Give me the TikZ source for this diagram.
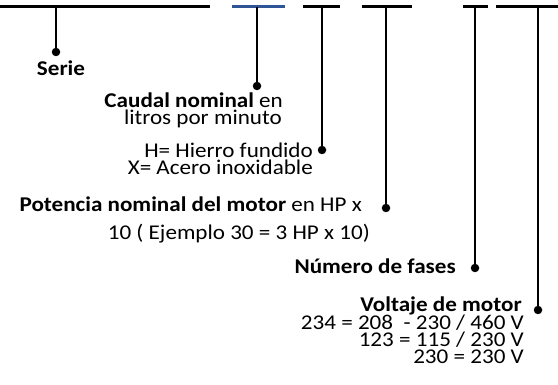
\documentclass[tikz,border=0pt]{standalone}
\usepackage{fontspec}
\setmainfont{Carlito}[FakeStretch=1.1]
\usepackage{tikz}
\definecolor{lineblue}{RGB}{47,85,151}
\tikzset{
	topline/.style={line width=3pt},
	drop/.style={line width=2.6pt},
	dotn/.style={circle, fill=black, inner sep=0pt, minimum size=8.5pt},
	lbl/.style={inner sep=0pt, font=\fontsize{21}{17}\selectfont}
}

\begin{document}
\begin{tikzpicture}[x=1pt, y=-1pt]
			%%%%% START %%%%%
			\useasboundingbox (0, 0) rectangle (558, 385);
			
			\draw[topline] (0, 7) -- (210, 7);
			\draw[topline, color=lineblue] (232, 7) -- (285, 7);
			\draw[topline] (303, 7) -- (340, 7);
			\draw[topline] (362, 7) -- (412, 7);
			\draw[topline] (463, 7) -- (488, 7);
			\draw[topline] (496, 7) -- (558, 7);
			
			\coordinate (serie-top) at (56, 7);
			\coordinate (caudal-top) at (257, 7);
			\coordinate (mat-top) at (322, 7);
			\coordinate (pot-top) at (386, 7);
			\coordinate (fases-top) at (475, 7);
			\coordinate (volt-top) at (538, 7);
			
			\node[dotn] (serie-dot) at (56, 52) {};
			\node[dotn] (caudal-dot) at (257, 86) {};
			\node[dotn] (mat-dot) at (322, 150) {};
			\node[dotn] (pot-dot) at (386, 208) {};
			\node[dotn] (fases-dot) at (475, 268) {};
			\node[dotn] (volt-dot) at (538, 310) {};
			
			\draw[drop] (serie-top) -- (serie-dot.center);
			\draw[drop] (caudal-top) -- (caudal-dot.center);
			\draw[drop] (mat-top) -- (mat-dot.center);
			\draw[drop] (pot-top) -- (pot-dot.center);
			\draw[drop] (fases-top) -- (fases-dot.center);
			\draw[drop] (volt-top) -- (volt-dot.center);
			
			\node[lbl, anchor=base] (serie) at (61, 76) {\textbf{Serie}};
			
			\node[lbl, anchor=base east] (caudal) at (283, 108) {\textbf{Caudal nominal} en};
			\node[lbl, anchor=base east] (caudal2) at (282, 125) {litros por minuto};
			
			\node[lbl, anchor=base east] (mat) at (313, 158) {H= Hierro fundido};
			\node[lbl, anchor=base east] (mat2) at (313, 175) {X= Acero inoxidable};
			
			\node[lbl, anchor=base east] (pot) at (362, 212) {\textbf{Potencia nominal del motor} en HP x};
			\node[lbl, anchor=base east] (pot2) at (370, 240) {10 ( Ejemplo 30 = 3 HP x 10)};
			
			\node[lbl, anchor=base east] (fases) at (456, 274) {\textbf{Número de fases}};
			
			\node[lbl, anchor=base east] (volt) at (522, 312) {\textbf{Voltaje de motor}};
			\node[lbl, anchor=base east] (volt2) at (524, 330) {234 = 208\ \ - 230 / 460 V};
			\node[lbl, anchor=base east] (volt3) at (524, 347) {123 = 115 / 230 V};
			\node[lbl, anchor=base east] (volt4) at (524, 364) {230 = 230 V};
			
			%%%%% END %%%%%
\end{tikzpicture}
\end{document}
